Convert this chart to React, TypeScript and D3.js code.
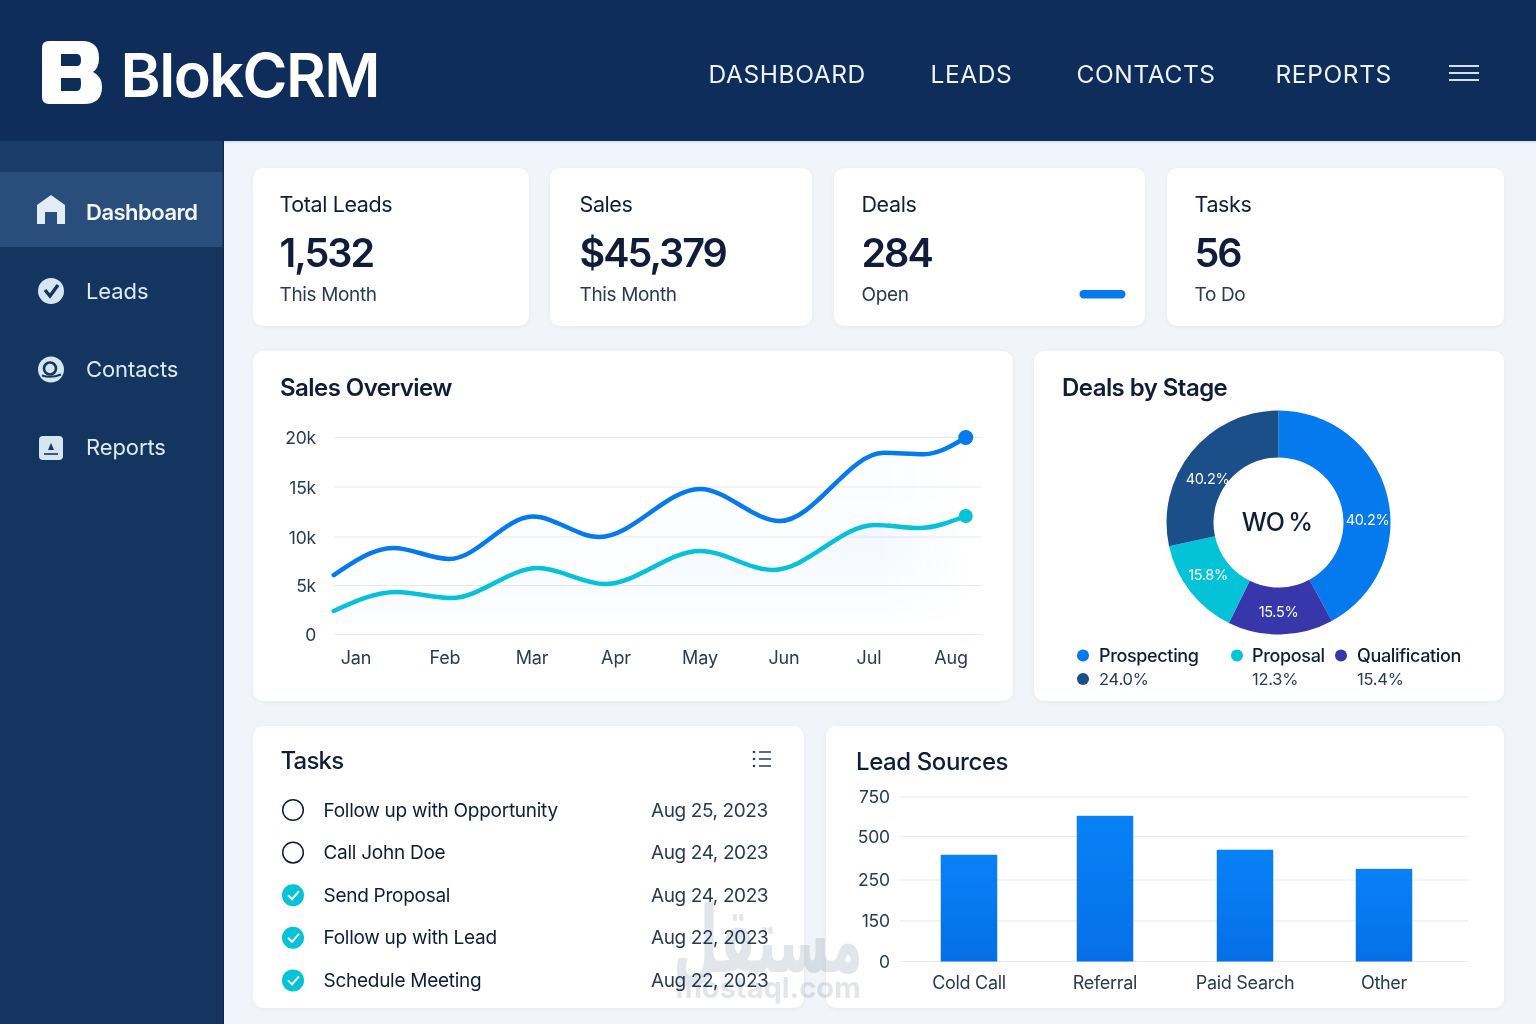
import React from 'react';
import * as d3 from 'd3';

const navItems = ['Dashboard', 'Leads', 'Contacts', 'Reports'];
const topNav = ['DASHBOARD', 'LEADS', 'CONTACTS', 'REPORTS'];
const kpiTitles = ['Total Leads', 'Sales', 'Deals', 'Tasks'];
const kpiValues = ['1,532', '$45,379', '284', '56'];
const kpiNotes = ['This Month', 'This Month', 'Open', 'To Do'];

const months = ['Jan', 'Feb', 'Mar', 'Apr', 'May', 'Jun', 'Jul', 'Aug'];
const salesTicks = [0, 5000, 10000, 15000, 20000];
const salesTickLabels = ['0', '5k', '10k', '15k', '20k'];
const blueMonth = [-0.25, 0.42, 1.05, 2.01, 2.8, 4.0, 4.95, 6.18, 6.67, 7.18];
const blueValue = [6080, 8870, 7730, 12040, 10000, 14800, 11600, 18450, 18300, 20000];
const tealMonth = [-0.25, 0.45, 1.07, 2.07, 2.87, 4.0, 4.87, 6.07, 6.61, 7.18];
const tealValue = [2400, 4340, 3720, 6800, 5150, 8560, 6600, 11200, 10900, 12100];

const stageShare = [42.1, 15.2, 14.3, 28.4];
const stageLabels = ['40.2%', '15.5%', '15.8%', '40.2%'];
const stageColors = ['#0579ee', '#3836ab', '#04c2d8', '#1b4f8a'];

const taskNames = ['Follow up with Opportunity', 'Call John Doe', 'Send Proposal', 'Follow up with Lead', 'Schedule Meeting'];
const taskDates = ['Aug 25, 2023', 'Aug 24, 2023', 'Aug 24, 2023', 'Aug 22, 2023', 'Aug 22, 2023'];
const taskDone = [false, false, true, true, true];

const sources = ['Cold Call', 'Referral', 'Paid Search', 'Other'];
const sourceValues = [395, 631, 424, 314];
const sourceTicks = [0, 150, 250, 500, 750];

const FONT = 'Inter, "Noto Sans", sans-serif';
const INK = '#0f1d3a';
const INK2 = '#2a3a55';

function Card({ x, y, w, h }: { x: number; y: number; w: number; h: number }) {
  return <rect x={x} y={y} width={w} height={h} rx={10} fill="#fff" filter="url(#soft)" />;
}

function NavIcon({ i, cx, cy }: { i: number; cx: number; cy: number }) {
  const fill = '#d5e5f2';
  const dark = '#15355f';
  if (i === 0)
    return (
      <path
        d={`M${cx} ${cy - 15} L${cx + 14} ${cy - 5} V${cy + 14} H${cx + 6} V${cy + 2} H${cx - 6} V${cy + 14} H${cx - 14} V${cy - 5} Z`}
        fill="#e3ebf3"
      />
    );
  if (i === 1)
    return (
      <g>
        <circle cx={cx} cy={cy} r={13} fill={fill} />
        <path d={`M${cx - 6} ${cy - 1} L${cx - 1} ${cy + 5} L${cx + 7} ${cy - 6}`} fill="none" stroke={dark} strokeWidth={3.4} />
      </g>
    );
  if (i === 2)
    return (
      <g>
        <circle cx={cx} cy={cy} r={13} fill={fill} />
        <circle cx={cx - 1} cy={cy - 1} r={6} fill="none" stroke={dark} strokeWidth={2.6} />
        <path d={`M${cx - 9} ${cy + 6} Q${cx} ${cy + 9} ${cx + 10} ${cy + 5}`} fill="none" stroke={dark} strokeWidth={2} />
      </g>
    );
  return (
    <g>
      <rect x={cx - 12} y={cy - 12} width={24} height={24} rx={4} fill={fill} />
      <path d={`M${cx} ${cy - 5} L${cx + 3} ${cy + 2} H${cx - 3} Z`} fill={dark} />
      <line x1={cx - 7} x2={cx + 7} y1={cy + 6} y2={cy + 6} stroke={dark} strokeWidth={1.6} />
    </g>
  );
}

export default function App() {
  // Sales overview
  const xMonth = d3.scaleLinear().domain(months.map((_, i) => i)).range([356, 445, 532, 616, 700, 784, 869, 951]);
  const ySales = d3.scaleLinear().domain(salesTicks).range([634.5, 585.5, 537, 487, 437.5]);
  const mkLine = (ms: number[], vs: number[]) =>
    d3
      .line<number>()
      .x((_, i) => xMonth(ms[i]))
      .y((v) => ySales(v))
      .curve(d3.curveMonotoneX)(vs) as string;
  const mkArea = (ms: number[], vs: number[]) =>
    d3
      .area<number>()
      .x((_, i) => xMonth(ms[i]))
      .y0(ySales(0))
      .y1((v) => ySales(v))
      .curve(d3.curveMonotoneX)(vs) as string;

  // Donut
  const pie = d3.pie<number>().sort(null).value((d) => d)(stageShare);
  const arc = d3.arc<d3.PieArcDatum<number>>().innerRadius(65).outerRadius(112);
  const labelPos = [
    [1367.5, 519.5],
    [1278.5, 611.5],
    [1208, 574.5],
    [1207.5, 478],
  ];

  // Bars
  const xBar = d3.scaleOrdinal<string, number>().domain(sources).range([969, 1105, 1245, 1384]);
  const barWidth = 56.5;
  const yBar = d3.scaleLinear().domain(sourceTicks).range([961.5, 921, 880, 836.5, 797]);

  const legend = [
    { x: 1083, y: 655.5, c: stageColors[0], t: 'Prospecting', tx: 1099, bold: true },
    { x: 1083, y: 679, c: stageColors[3], t: '24.0%', tx: 1099, bold: false },
    { x: 1237, y: 655.5, c: stageColors[2], t: 'Proposal', tx: 1252, bold: true },
    { x: 0, y: 679, c: '', t: '12.3%', tx: 1252, bold: false },
    { x: 1341, y: 655.5, c: stageColors[1], t: 'Qualification', tx: 1357, bold: true },
    { x: 0, y: 679, c: '', t: '15.4%', tx: 1357, bold: false },
  ];

  const kpiX = [279.5, 579.5, 861.5, 1194.5];
  const navX = [708.5, 930.5, 1076.5, 1275.5];

  return (
    <svg width={1536} height={1024} style={{ position: 'absolute', left: 0, top: 0 }} fontFamily={FONT}>
      <defs>
        <filter id="soft" x="-5%" y="-5%" width="110%" height="110%">
          <feDropShadow dx={0} dy={1} stdDeviation={2} floodColor="#8fa0b5" floodOpacity={0.12} />
        </filter>
        <linearGradient id="tealFill" gradientUnits="userSpaceOnUse" x1="0" y1="500" x2="0" y2="634">
          <stop offset="0" stopColor="#2f80d8" stopOpacity={0.06} />
          <stop offset="1" stopColor="#2f80d8" stopOpacity={0} />
        </linearGradient>
        <linearGradient id="blueFill" gradientUnits="userSpaceOnUse" x1="0" y1="440" x2="0" y2="634">
          <stop offset="0" stopColor="#0579ee" stopOpacity={0.02} />
          <stop offset="1" stopColor="#0579ee" stopOpacity={0} />
        </linearGradient>
        <linearGradient id="fadeRight" gradientUnits="userSpaceOnUse" x1="880" y1="0" x2="972" y2="0">
          <stop offset="0" stopColor="#fff" />
          <stop offset="1" stopColor="#000" />
        </linearGradient>
        <mask id="areaMask" maskUnits="userSpaceOnUse" x={300} y={420} width={700} height={230}>
          <rect x={300} y={420} width={700} height={230} fill="url(#fadeRight)" />
        </mask>
        <linearGradient id="barFill" x1="0" y1="0" x2="0" y2="1">
          <stop offset="0" stopColor="#0882f6" />
          <stop offset="1" stopColor="#066fe8" />
        </linearGradient>
      </defs>
      <rect width={1536} height={1024} fill="#f1f4f8" />
      <rect y={141} width={224} height={883} fill="#14355f" />
      <rect y={141} width={224} height={31} fill="#1b3d69" />
      <rect y={172} width={224} height={75} fill="#2a4e7c" />
      <rect x={222.5} y={141} width={1.5} height={883} fill="#0f2a50" />
      <rect width={1536} height={141} fill="#0f2d5a" />
      <rect x={224} y={141} width={1312} height={2} fill="#dde3ea" />

      {/* logo */}
      <path
        d="M49 41 H82 Q99 41 99 58 Q99 68 93 72 Q102 76 102 87 Q102 104 84 104 H49 Q42 104 42 97 V48 Q42 41 49 41 Z"
        fill="#fff"
      />
      <path d="M61 54 H77 Q81 54 81 60 Q81 66 77 66 H61 Z M61 78 H80 Q81 78 81 84 Q81 91 77 91 H61 Z" fill="#0f2d5a" />
      <text x={120.5} y={97} fontSize={61} fontWeight={600} fill="#fff" letterSpacing={-1.5}>
        BlokCRM
      </text>
      {topNav.map((t, i) => (
        <text key={t} x={navX[i]} y={82.5} fontSize={24.5} fontWeight={400} fill="#eef3f9" letterSpacing={0.6}>
          {t}
        </text>
      ))}
      {[66, 73, 80].map((y) => (
        <line key={y} x1={1449} x2={1479} y1={y} y2={y} stroke="#eef3f9" strokeWidth={1.8} />
      ))}

      {/* sidebar */}
      {navItems.map((t, i) => (
        <g key={t}>
          <NavIcon i={i} cx={51} cy={i === 0 ? 210 : 291 + (i - 1) * 78.5} />
          <text x={86} y={i === 0 ? 220 : 298.5 + (i - 1) * 78} fontSize={22} fontWeight={i === 0 ? 600 : 400} letterSpacing={i === 0 ? -0.5 : -0.1} fill={i === 0 ? '#f3f7fb' : '#dfe9f3'}>
            {t}
          </text>
        </g>
      ))}

      {/* KPI cards */}
      <Card x={253} y={168} w={276} h={158} />
      <Card x={550} y={168} w={262} h={158} />
      <Card x={834} y={168} w={311} h={158} />
      <Card x={1167} y={168} w={337} h={158} />
      {kpiTitles.map((t, i) => (
        <g key={t}>
          <text x={kpiX[i]} y={212} fontSize={21.5} fontWeight={400} letterSpacing={-0.4} fill={INK}>{t}</text>
          <text x={kpiX[i]} y={266.5} fontSize={39.5} fontWeight={600} fill={INK} letterSpacing={-2} >{kpiValues[i]}</text>
          <text x={kpiX[i]} y={301} fontSize={19} letterSpacing={-0.35} fill={INK2}>{kpiNotes[i]}</text>
        </g>
      ))}
      <rect x={1079.5} y={290} width={46} height={8.5} rx={4.2} fill="#0579ee" />

      {/* Sales overview */}
      <Card x={253} y={351} w={760} h={350} />
      <text x={280} y={396} fontSize={24} fontWeight={600} letterSpacing={-0.55} fill={INK}>Sales Overview</text>
      {salesTicks.map((v, i) => (
        <g key={v}>
          <line x1={334} x2={981} y1={ySales(v)} y2={ySales(v)} stroke="#e6ebf1" strokeWidth={1.2} />
          <text x={316} y={ySales(v) + 6.5} textAnchor="end" fontSize={17.5} letterSpacing={-0.2} fill={INK2}>{salesTickLabels[i]}</text>
        </g>
      ))}
      <g mask="url(#areaMask)">
        <path d={mkArea(blueMonth, blueValue)} fill="url(#blueFill)" />
        <path d={mkArea(tealMonth, tealValue)} fill="url(#tealFill)" />
      </g>
      <path d={mkLine(blueMonth, blueValue)} fill="none" stroke="#0579ee" strokeWidth={4.5} strokeLinecap="round" />
      <path d={mkLine(tealMonth, tealValue)} fill="none" stroke="#04c2d8" strokeWidth={4.5} strokeLinecap="round" />
      <circle cx={xMonth(blueMonth[9])} cy={ySales(blueValue[9])} r={7.5} fill="#0579ee" />
      <circle cx={xMonth(tealMonth[9])} cy={ySales(tealValue[9])} r={7} fill="#04c2d8" />
      {months.map((m, i) => (
        <text key={m} x={xMonth(i)} y={664} textAnchor="middle" fontSize={18} letterSpacing={-0.15} fill={INK2}>{m}</text>
      ))}

      {/* Deals by stage */}
      <Card x={1034} y={351} w={470} h={350} />
      <text x={1062} y={396} fontSize={24} fontWeight={600} letterSpacing={-0.55} fill={INK}>Deals by Stage</text>
      <g transform="translate(1278.5,522.5)">
        {pie.map((p, i) => (
          <path key={i} d={arc(p) as string} fill={stageColors[i]} />
        ))}
      </g>
      {stageLabels.map((t, i) => (
        <text key={i} x={labelPos[i][0]} y={labelPos[i][1] + 5.5} textAnchor="middle" fontSize={14.5} letterSpacing={-0.35} fill="#fff">{t}</text>
      ))}
      <text x={1277} y={531} textAnchor="middle" fontSize={25} fontWeight={500} letterSpacing={-0.7} wordSpacing={-2} fill={INK}>WO %</text>
      {legend.map((l) => (
        <g key={l.t}>
          {l.c && <circle cx={l.x} cy={l.y} r={6} fill={l.c} />}
          <text x={l.tx} y={l.y + 6} fontSize={l.bold ? 18 : 16.5} fontWeight={l.bold ? 500 : 400} letterSpacing={l.bold ? -0.35 : -0.25} fill={l.bold ? INK : INK2}>{l.t}</text>
        </g>
      ))}

      {/* Tasks */}
      <Card x={253} y={726} w={551} h={282} />
      <text x={280.5} y={769} fontSize={24} fontWeight={500} letterSpacing={-0.8} fill={INK}>Tasks</text>
      {[752, 759, 766].map((y) => (
        <g key={y}>
          <circle cx={754} cy={y} r={1.3} fill={INK2} />
          <line x1={759} x2={771} y1={y} y2={y} stroke={INK2} strokeWidth={1.5} />
        </g>
      ))}
      {taskNames.map((t, i) => {
        const y = 810 + i * 42.6;
        return (
          <g key={t}>
            {taskDone[i] ? (
              <g>
                <circle cx={293} cy={y} r={11} fill="#04c2d8" />
                <path d={`M${288} ${y} L${292} ${y + 4} L${299} ${y - 4}`} fill="none" stroke="#fff" strokeWidth={2} />
              </g>
            ) : (
              <circle cx={293} cy={y} r={10.3} fill="none" stroke={INK} strokeWidth={1.5} />
            )}
            <text x={323.5} y={y + 6.5} fontSize={19} letterSpacing={-0.27} fill={INK}>{t}</text>
            <text x={651} y={y + 6.5} fontSize={19} letterSpacing={-0.4} fill={INK2}>{taskDates[i]}</text>
          </g>
        );
      })}

      {/* Lead sources */}
      <Card x={826} y={726} w={678} h={282} />
      <text x={856} y={770} fontSize={24} fontWeight={500} letterSpacing={-0.4} fill={INK}>Lead Sources</text>
      {sourceTicks.map((v) => (
        <g key={v}>
          <line x1={900} x2={1468} y1={yBar(v)} y2={yBar(v)} stroke="#e6ebf1" strokeWidth={1.2} />
          <text x={890} y={yBar(v) + 6} textAnchor="end" fontSize={17.5} letterSpacing={-0.15} fill={INK2}>{v}</text>
        </g>
      ))}
      {sources.map((s, i) => (
        <g key={s}>
          <rect x={xBar(s) - barWidth / 2} y={yBar(sourceValues[i])} width={barWidth} height={yBar(0) - yBar(sourceValues[i])} fill="url(#barFill)" />
          <text x={xBar(s)} y={989} textAnchor="middle" fontSize={18} letterSpacing={-0.3} fill={INK2}>{s}</text>
        </g>
      ))}

      {/* watermark */}
      <g fill="#8c9bb0" opacity={0.25} style={{ mixBlendMode: 'multiply' }}>
        <text transform="translate(768,972) scale(0.96,1.7)" textAnchor="middle" fontSize={54} fontWeight={700} fontFamily='"DejaVu Sans", sans-serif'>مستقل</text>
        <text x={768} y={998} textAnchor="middle" fontSize={29} fontWeight={700} fontFamily="Inter, sans-serif">mostaql.com</text>
      </g>
    </svg>
  );
}
